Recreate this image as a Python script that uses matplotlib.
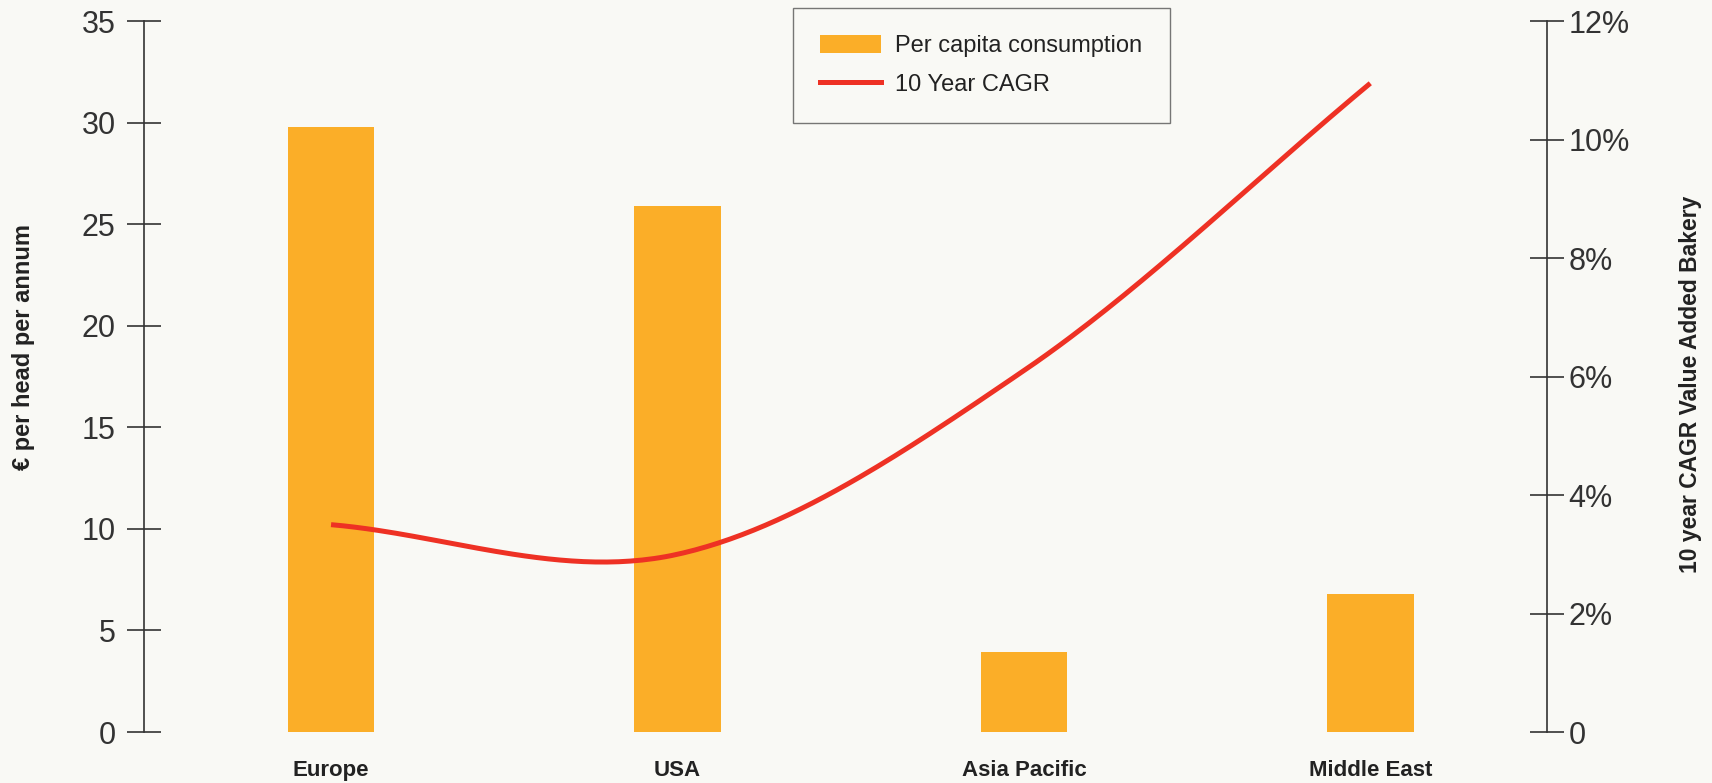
import numpy as np
import matplotlib
matplotlib.use("Agg")
import matplotlib.pyplot as plt
from matplotlib.patches import Patch
from matplotlib.lines import Line2D
from matplotlib.ticker import FuncFormatter

regions = ["Europe", "USA", "Asia Pacific", "Middle East"]
per_capita = [29.8, 25.9, 3.95, 6.8]      # € per head per annum
cagr = [3.5, 3.0, 6.1, 10.95]             # 10 year CAGR, %

BG = "#f9f9f5"
BAR_COLOR = "#fbae28"
LINE_COLOR = "#ee3124"
INK = "#333333"

plt.rcParams["font.family"] = ["Liberation Sans", "DejaVu Sans"]


def smooth_line(xs, ys, n=60):
    # cardinal spline through the data points ("smoothed line" look)
    xs = np.asarray(xs, float)
    ys = np.asarray(ys, float)
    m = np.empty_like(ys)
    m[1:-1] = (ys[2:] - ys[:-2]) / 2
    m[0] = ys[1] - ys[0]
    m[-1] = ys[-1] - ys[-2]
    out_x, out_y = [], []
    for i in range(len(xs) - 1):
        t = np.linspace(0, 1, n)
        h00 = 2 * t**3 - 3 * t**2 + 1
        h10 = t**3 - 2 * t**2 + t
        h01 = -2 * t**3 + 3 * t**2
        h11 = t**3 - t**2
        out_x.append(xs[i] + t * (xs[i + 1] - xs[i]))
        out_y.append(h00 * ys[i] + h10 * m[i] + h01 * ys[i + 1] + h11 * m[i + 1])
    return np.concatenate(out_x), np.concatenate(out_y)


fig = plt.figure(figsize=(17.12, 7.83), dpi=100, facecolor=BG)
ax1 = fig.add_axes([0.0841, 0.0651, 0.8195, 0.908])
ax1.set_facecolor(BG)

x = np.arange(len(regions))
ax1.bar(x, per_capita, width=0.25, color=BAR_COLOR, zorder=2)
ax1.set_xlim(-0.54, 3.51)
ax1.set_ylim(0, 35)
ax1.set_yticks(np.arange(0, 36, 5))
ax1.set_xticks(x)
ax1.set_xticklabels(regions, fontsize=16, fontweight="bold", color="#222222")
ax1.tick_params(axis="x", length=0, pad=20)
ax1.tick_params(axis="y", direction="inout", length=25, width=1.2, color=INK,
                labelsize=22, labelcolor=INK, pad=8)
ax1.set_ylabel("€ per head per annum", fontsize=17, fontweight="bold",
               color="#222222")
ax1.yaxis.set_label_coords(-0.0776, 0.541)

ax2 = ax1.twinx()
lx, ly = smooth_line(x, cagr)
ax2.plot(lx, ly, color=LINE_COLOR, lw=3.6, solid_capstyle="butt", zorder=3)
ax2.set_ylim(0, 12)
ax2.set_yticks(np.arange(0, 13, 2))
ax2.yaxis.set_major_formatter(FuncFormatter(lambda v, p: f"{v:.0f}%" if v else "0"))
ax2.tick_params(axis="y", direction="inout", length=25, width=1.2, color=INK,
                labelsize=22, labelcolor=INK, pad=3)
ax2.set_ylabel("10 year CAGR Value Added Bakery", fontsize=16.5, fontweight="bold",
               color="#222222")
ax2.yaxis.set_label_coords(1.0944, 0.489)

for a in (ax1, ax2):
    for side in ("top", "bottom"):
        a.spines[side].set_visible(False)
ax1.spines["right"].set_visible(False)
ax2.spines["left"].set_visible(False)
ax1.spines["left"].set_color(INK)
ax1.spines["left"].set_linewidth(1.2)
ax2.spines["right"].set_color(INK)
ax2.spines["right"].set_linewidth(1.2)

handles = [Patch(facecolor=BAR_COLOR, edgecolor="none"),
           Line2D([0], [0], color=LINE_COLOR, lw=3.6)]
leg = fig.legend(handles, ["Per capita consumption", "10 Year CAGR"],
                 loc="upper left", bbox_to_anchor=(0.463, 0.99),
                 fontsize=17, frameon=True, fancybox=False, handlelength=2.6,
                 handleheight=0.8, handletextpad=0.6, labelspacing=0.7,
                 borderpad=1.15, borderaxespad=0)
leg.get_frame().set_edgecolor("#555555")
leg.get_frame().set_linewidth(1.0)
leg.get_frame().set_facecolor(BG)
for t in leg.get_texts():
    t.set_color("#222222")

fig.savefig("out.png", dpi=100, facecolor=BG)
